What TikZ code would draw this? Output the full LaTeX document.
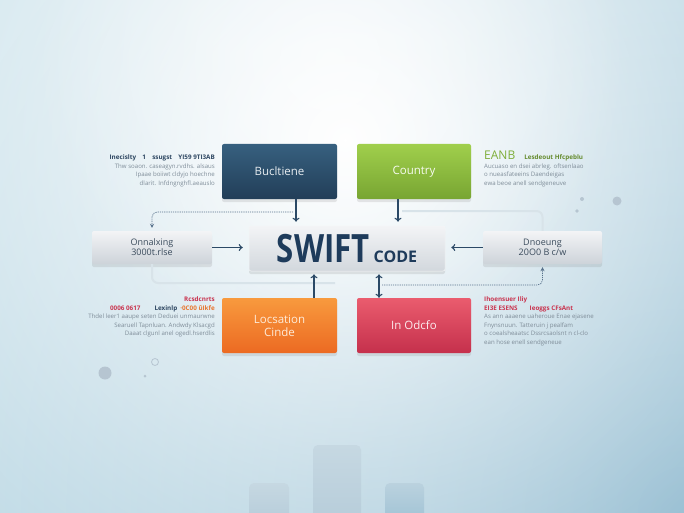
\documentclass[tikz,border=0pt]{standalone}
\usepackage{fontspec}
\setmainfont{Open Sans}
\usepackage{graphicx}
\usetikzlibrary{arrows.meta,shadows,fadings}

\definecolor{bgL}{HTML}{CCE3EC}
\definecolor{bgR}{HTML}{98BFD3}
\definecolor{navy}{HTML}{2B4966}
\definecolor{swiftc}{HTML}{1E3B5B}
\definecolor{bluT}{HTML}{37607F}
\definecolor{bluB}{HTML}{223E58}
\definecolor{grnT}{HTML}{A0CF4C}
\definecolor{grnB}{HTML}{78A532}
\definecolor{orT}{HTML}{F89A3E}
\definecolor{orB}{HTML}{EC6A22}
\definecolor{redT}{HTML}{EA5C6E}
\definecolor{redB}{HTML}{C5304C}
\definecolor{greyT}{HTML}{F3F4F6}
\definecolor{greyB}{HTML}{CDD3D9}
\definecolor{txtdark}{HTML}{3A4B5C}
\definecolor{notec}{HTML}{7E8C98}
\definecolor{hdark}{HTML}{2C4560}
\definecolor{redh}{HTML}{C9334E}
\definecolor{orh}{HTML}{E8742C}
\definecolor{greenh}{HTML}{7FAE3A}
\definecolor{dotc}{HTML}{58728C}
\definecolor{faintc}{HTML}{D8E3E9}
\definecolor{cylT}{HTML}{C6D8E2}
\definecolor{cylB}{HTML}{B7CDDA}
\definecolor{spot}{HTML}{B6C5D1}

\tikzfading[name=glow, inner color=transparent!0, outer color=transparent!100]

\begin{document}
\begin{tikzpicture}[x=1pt,y=-1pt,
  box/.style={rounded corners=2pt, minimum width=115pt, minimum height=55pt,
    inner sep=0pt, align=center, font=\fontsize{11.5}{13}\selectfont,
    drop shadow={opacity=0.18, shadow xshift=0pt, shadow yshift=-3pt}},
  side/.style={box, minimum width=120pt, minimum height=33pt,
    top color=greyT, bottom color=greyB, text=txtdark,
    font=\fontsize{9}{10}\selectfont},
  arr/.style={-{To[length=4pt,width=7pt]}, line width=1.1pt, draw=navy},
  dots/.style={dash pattern=on 1.2pt off 1pt, line width=0.7pt, draw=dotc,
    rounded corners=5pt, -{Stealth[length=4pt,width=4pt]}},
  faint/.style={line width=2pt, draw=faintc, rounded corners=6pt},
  note/.style={font=\fontsize{6.1}{8.5}\selectfont, text=notec, inner sep=0pt},
  cyl/.style={rounded corners=5pt, top color=cylT, bottom color=cylB}
]
  \useasboundingbox (0,0) rectangle (684,513);

  % background
  \begin{scope}
    \clip (0,0) rectangle (684,513);
    \fill[bgL] (0,0) rectangle (684,513);
    \fill[bgR, path fading=glow] (684,513) circle (820);
    \fill[white, path fading=glow] (345,140) circle (520);
    \fill[white, path fading=glow, opacity=0.6] (330,60) circle (300);
  \end{scope}

  % cylinders
  \shade[cyl] (249,520) rectangle (289,483);
  \shade[cyl] (313,520) rectangle (361,445);
  \shade[cyl, top color=cylT!75!bgR, bottom color=bgR!70!cylB] (385,520) rectangle (424,483);

  % spots
  \fill[spot] (582,199) circle (2);
  \fill[spot] (617,201) circle (4.5);
  \fill[spot] (577,211) circle (1.8);
  \fill[spot] (105,373) circle (6.5);
  \draw[spot, line width=0.8pt] (155,362) circle (3.5);
  \fill[spot] (145,376) circle (1.5);

  % boxes
  \node[box, top color=bluT, bottom color=bluB, text=white!88!bluT] (buc) at (279.5,171.5) {Bucltiene};
  \node[box, minimum width=114pt, top color=grnT, bottom color=grnB, text=white!92!grnT] (cty) at (414,171.5) {Country};
  \node[box, top color=orT, bottom color=orB, text=white!80!orT] (loc) at (279.5,325.5) {Locsation\\Cinde};
  \node[box, minimum width=114pt, top color=redT, bottom color=redB, text=white!88!redT] (odc) at (414,325.5) {In Odcfo};
  \node[side] (onn) at (152,247.5) {Onnalxing\\3000t.rlse};
  \node[side, minimum width=119pt] (dno) at (542.5,247.5) {Dnoeung\\20O0 B c/w};
  \node[box, minimum width=196pt, minimum height=45pt, top color=greyT, bottom color=greyB!90!white,
        text=swiftc, draw=white!80!greyB, line width=0.5pt] (swift) at (347,248.5)
        {\raisebox{1pt}{\scalebox{0.8}[1]{\fontsize{39}{40}\selectfont\bfseries SWIFT}\hspace{4pt}{\fontsize{16}{18}\selectfont\bfseries CODE}}};

  % faint lines
  \coordinate (fl) at (335,283);
  \coordinate (fr) at (402,211);
  \draw[faint] (onn.south) |- (fl);
  \draw[faint] (fr) -| (dno.north);

  % dotted lines
  \coordinate (dl) at (293,212);
  \coordinate (dr) at (382,285);
  \draw[dots] (dl) -| ([yshift=3pt]onn.north);
  \draw[dots] (dr) -| ([yshift=-3pt]dno.south);

  % arrows
  \coordinate (b1) at ([xshift=16.5pt]buc.south);
  \coordinate (c1) at ([xshift=-16pt]cty.south);
  \coordinate (l1) at ([xshift=34.5pt]loc.north);
  \coordinate (o1) at ([xshift=-35pt]odc.north);
  \draw[arr, shorten >=4pt] (b1) -- (b1 |- swift.north);
  \draw[arr, shorten >=4pt] (c1) -- (c1 |- swift.north);
  \draw[arr, shorten >=3pt] (l1) -- (l1 |- swift.south);
  \draw[arr, {To[length=4pt,width=7pt]}-{To[length=4pt,width=7pt]}, shorten <=3pt] (o1 |- swift.south) -- (o1);
  \draw[arr, shorten >=6pt] (onn.east) -- (onn.east -| swift.west);
  \draw[arr, shorten >=6pt] (dno.west) -- (dno.west -| swift.east);

  % side notes
  \node[note, anchor=north east, align=right] (nlt) at (215,155)
    {\textcolor{hdark}{\fontsize{6.3}{8.5}\selectfont\bfseries Inecislty\quad 1\quad ssugst\quad YI59 9TI3AB}\\
     Thw soaon. caseagyn.rvdhs. alsaus\\
     Ipaae boiiwt cldyjo hoechne\\
     dlarit. Infdngnghfl.aeauslo};
  \node[note, anchor=north east, align=right] (nlb) at (215,297)
    {\textcolor{redh}{\fontsize{6.3}{8.5}\selectfont\bfseries Rcsdcnrts}\\
     \textcolor{redh}{\fontsize{6.3}{8.5}\selectfont\bfseries 0006 0617}\hspace{14pt}%
     \textcolor{hdark}{\fontsize{6.3}{8.5}\selectfont\bfseries Lexinlp}\hspace{3pt}%
     \textcolor{orh}{\fontsize{6.3}{8.5}\selectfont\bfseries ·0C00 ûIkfe}\\
     Thdel leer1 aaupe seten Deduei unmaurwne\\
     Searuell Tapnluan. Andwdy Klsacgd\\
     Daaat clgunl anel ogedl.hserdlis};
  \node[note, anchor=north west, align=left] (nrt) at (484,151)
    {\textcolor{greenh}{\fontsize{12}{8.5}\selectfont EANB}\hspace{9pt}%
     \textcolor{greenh!80!black}{\fontsize{6.3}{8.5}\selectfont\bfseries Lesdeout Hfcpeblu}\\
     Aucuaso en dsei abrleg. oftsenlaao\\
     o nueasfateeins Daendeigas\\
     ewa beoe anell sendgeneuve};
  \node[note, anchor=north west, align=left] (nrb) at (484,297)
    {\textcolor{redh}{\fontsize{6.3}{8.5}\selectfont\bfseries Ihoensuer Iliy}\\
     \textcolor{redh}{\fontsize{6.3}{8.5}\selectfont\bfseries EI3E ESENS}\hspace{12pt}%
     \textcolor{redh}{\fontsize{6.3}{8.5}\selectfont\bfseries Ieoggs CFsAnt}\\
     As ann aaaene uaheroue Enae ejasene\\
     Fnynsnuun. Tatteruin j pealfam\\
     o coealsheaatsc Dssrcsaolsnt n cl-clo\\
     ean hose enell sendgeneue};
\end{tikzpicture}
\end{document}
